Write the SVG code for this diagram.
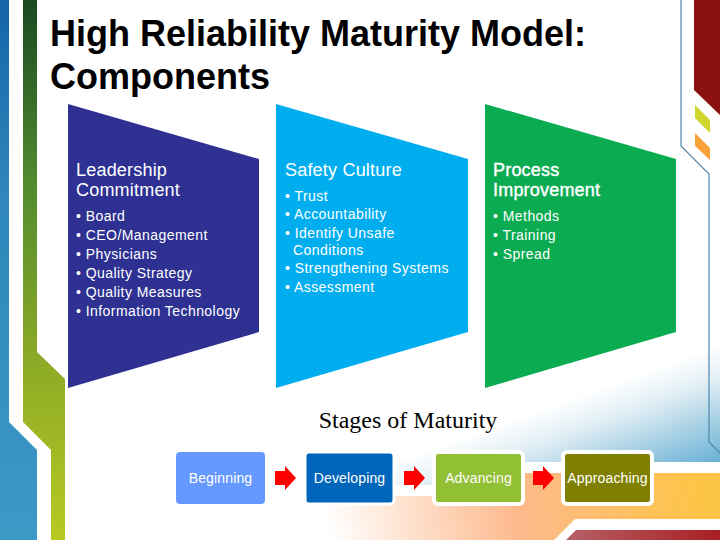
<svg xmlns="http://www.w3.org/2000/svg" width="720" height="540" viewBox="0 0 720 540">
<style>
text{font-family:"Liberation Sans",Arial,sans-serif}
.title{font-size:36px;font-weight:bold;fill:#000}
.head{font-size:18px;fill:#fff;letter-spacing:.2px}
.bold{stroke:#fff;stroke-width:.4px}
.item{font-size:14px;fill:#fff;letter-spacing:.45px}
.stage{fill:#fff;font-size:14px;text-anchor:middle;letter-spacing:.15px}
.arrow{fill:#f00}
</style>
<defs>
<linearGradient id="gs" x1="0" y1="0" x2="0" y2="540" gradientUnits="userSpaceOnUse"><stop offset="0" stop-color="#174a22"/><stop offset=".33" stop-color="#4f8a2f"/><stop offset=".65" stop-color="#89a826"/><stop offset="1" stop-color="#b7c922"/></linearGradient>
<linearGradient id="bs" x1="0" y1="0" x2="0" y2="540" gradientUnits="userSpaceOnUse"><stop offset="0" stop-color="#1464a8"/><stop offset=".35" stop-color="#2e86ba"/><stop offset="1" stop-color="#3b9ac6"/></linearGradient>
<linearGradient id="bl" x1="718" y1="345" x2="755" y2="447.500" gradientUnits="userSpaceOnUse"><stop offset="0" stop-color="#fff"/><stop offset=".3" stop-color="#e0eef5"/><stop offset=".6" stop-color="#aed4e6"/><stop offset="1" stop-color="#6cb2d6"/></linearGradient>
<linearGradient id="or" x1="330" y1="540" x2="700" y2="470" gradientUnits="userSpaceOnUse"><stop offset="0" stop-color="#fff"/><stop offset=".5" stop-color="#fdb98c"/><stop offset="1" stop-color="#fdc545"/></linearGradient>
<linearGradient id="rd" x1="566" y1="0" x2="720" y2="0" gradientUnits="userSpaceOnUse"><stop offset="0" stop-color="#b56066"/><stop offset="1" stop-color="#a81f22"/></linearGradient>
</defs>
<rect width="720" height="540" fill="#fff"/>
<g id="background">
<path d="M0 0H9V422L37 450V540H0Z" fill="url(#bs)"/>
<path d="M23 0H37V352L65 379V540H51V450L23 422Z" fill="url(#gs)"/>
<path d="M694 0H720V115L694 90Z" fill="#8b1010"/>
<path d="M695 105L710 120V133L695 118Z" fill="#cfd82a"/>
<path d="M695 133L710 148V160L695 146Z" fill="#f9a13a"/>
<path d="M394 345H720V462H510L485 485H394Z" fill="url(#bl)"/>
<path d="M681 0V146L709 174V442L720 453" fill="none" stroke="#4f86ad" stroke-width="1.2"/>
<path d="M300 540V496H485L510 473H720V519H575L554 540Z" fill="url(#or)"/>
<path d="M566 540L576 530H720V540Z" fill="url(#rd)"/>
</g>
<text class="title" x="50" y="46">High Reliability Maturity Model:</text>
<text class="title" x="50" y="89">Components</text>
<g id="leadership">
<path d="M68 104L259 159V332L68 388Z" fill="#2e3192"/>
<text class="head" x="76" y="176">Leadership</text>
<text class="head" x="76" y="196">Commitment</text>
<text class="item" x="76" y="221">• Board</text>
<text class="item" x="76" y="240">• CEO/Management</text>
<text class="item" x="76" y="259">• Physicians</text>
<text class="item" x="76" y="278">• Quality Strategy</text>
<text class="item" x="76" y="297">• Quality Measures</text>
<text class="item" x="76" y="316">• Information Technology</text>
</g>
<g id="safety-culture">
<path d="M276 104L468 159V332L276 388Z" fill="#00aeef"/>
<text class="head" x="285" y="176">Safety Culture</text>
<text class="item" x="285" y="201">• Trust</text>
<text class="item" x="285" y="219">• Accountability</text>
<text class="item" x="285" y="238">• Identify Unsafe</text>
<text class="item" x="293" y="255">Conditions</text>
<text class="item" x="285" y="273">• Strengthening Systems</text>
<text class="item" x="285" y="292">• Assessment</text>
</g>
<g id="process-improvement">
<path d="M485 104L676 159V332L485 388Z" fill="#0bab52"/>
<text class="head bold" x="493" y="176">Process</text>
<text class="head bold" x="493" y="196">Improvement</text>
<text class="item" x="493" y="221">• Methods</text>
<text class="item" x="493" y="240">• Training</text>
<text class="item" x="493" y="259">• Spread</text>
</g>
<text x="408" y="428" text-anchor="middle" style="font-family:'Liberation Serif','Times New Roman',serif;font-size:24px;fill:#000">Stages of Maturity</text>
<g id="connectors">
<path class="arrow" d="M275 471H285V466L296 478L285 490V485H275Z"/>
<path class="arrow" d="M404 471H414V466L425 478L414 490V485H404Z"/>
<path class="arrow" d="M533 471H543V466L554 478L543 490V485H533Z"/>
</g>
<g id="beginning"><rect x="176" y="452" width="89" height="52" rx="4" fill="#6699ff"/><text class="stage" x="220.500" y="483">Beginning</text></g>
<g id="developing"><rect x="305" y="452" width="89" height="52" rx="4" fill="#0066bb" stroke="#fff" stroke-width="3"/><text class="stage" x="349.500" y="483">Developing</text></g>
<g id="advancing"><rect x="434" y="452" width="89" height="52" rx="4" fill="#92c035" stroke="#fff" stroke-width="4"/><text class="stage" x="478.500" y="483">Advancing</text></g>
<g id="approaching"><rect x="563" y="452" width="89" height="52" rx="4" fill="#808000" stroke="#fff" stroke-width="4"/><text class="stage" x="607.500" y="483">Approaching</text></g>
</svg>
